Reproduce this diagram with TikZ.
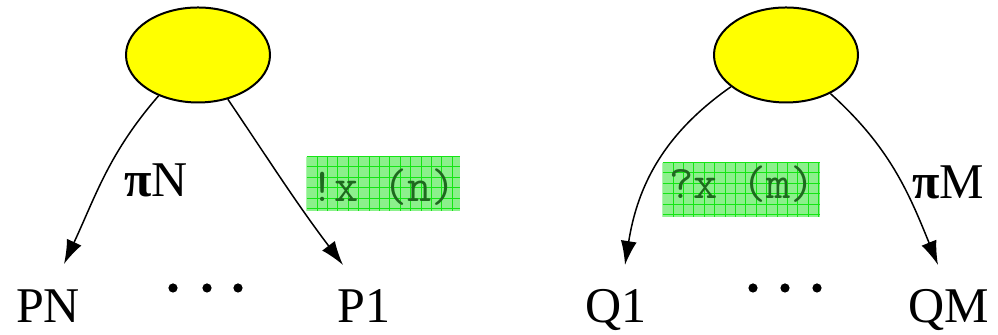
\documentclass[tikz,border=0pt]{standalone}
\usepackage{fontspec}
\setmainfont{Liberation Serif}
\usetikzlibrary{arrows.meta,shapes.geometric}
\definecolor{blobfill}{RGB}{255,255,0}
\definecolor{tagfill}{RGB}{140,240,140}
\definecolor{tagline}{RGB}{20,230,20}
\definecolor{tagtext}{RGB}{30,105,30}
\begin{document}
\begin{tikzpicture}[x=0.5pt,y=0.5pt,
  blob/.style={ellipse, draw, line width=1pt, fill=blobfill,
    minimum width=72pt, minimum height=47.5pt, inner sep=0pt},
  leaf/.style={anchor=base, font=\fontsize{25}{30}\selectfont, inner sep=0pt},
  chan/.style={-{Latex[length=12pt,width=8pt]}, line width=0.75pt},
  tag/.style={rectangle, fill=tagfill, inner sep=0pt, minimum height=27pt},
  gridline/.style={tagline, line width=0.5pt},
  tagtxt/.style={anchor=base, text=tagtext, inner sep=0pt,
    font=\ttfamily\fontsize{23.5}{28}\selectfont},
  dot/.style={circle, fill=black, inner sep=0pt, minimum size=4.6pt}]
\useasboundingbox (0,0) rectangle (998,335);

% sender and receiver
\node[blob] (L) at (198,280) {};
\node[blob] (R) at (786,280) {};

% process names
\node[leaf] (PN) at (48,12) {PN};
\node[leaf] (P1) at (364,12) {P1};
\node[leaf] (Q1) at (616,12) {Q1};
\node[leaf] (QM) at (949,12) {QM};

% elided processes
\node[dot] (d1) at (173,47) {};
\node[dot] (d2) at (207,47) {};
\node[dot] (d3) at (238,47) {};
\node[dot] (d4) at (753,47) {};
\node[dot] (d5) at (785,47) {};
\node[dot] (d6) at (817,47) {};

% arrow tips above the process names
\coordinate (pn-in) at (64,71);
\coordinate (p1-in) at (343,70);
\coordinate (q1-in) at (625,70);
\coordinate (qm-in) at (938,70);

% channels
\draw[chan] (L.226) to[out=229,in=65] (pn-in);
\draw[chan] (L.304) to[out=-56,in=127] (p1-in);
\draw[chan] (R.210) to[out=215,in=81] (q1-in);
\draw[chan] (R.319) to[out=-42,in=112] (qm-in);

% channel labels
\node[leaf] (piN) at (156,138) {{\bfseries π}N};
\node[leaf] (piM) at (948,136) {{\bfseries π}M};

% send / receive actions: shaded boxes with a fine grid
\node[tag, minimum width=76.5pt] (send) at (383.5,151) {};
\node[tag, minimum width=78.5pt] (recv) at (741.5,145) {};
\foreach \b in {send,recv}{
  \begin{scope}
    \clip (\b.south west) rectangle (\b.north east);
    \foreach \i in {0,...,16}
      \draw[gridline] ([xshift=\i*5.2pt]\b.north west) -- ([xshift=\i*5.2pt]\b.south west);
    \foreach \j in {0,...,6}
      \draw[gridline] ([yshift=-\j*5.2pt]\b.north west) -- ([yshift=-\j*5.2pt]\b.north east);
  \end{scope}
}
\node[tagtxt] (sendtxt) at (383,133) {!x (n)};
\node[tagtxt] (recvtxt) at (742,136) {?x (m)};
\end{tikzpicture}
\end{document}
